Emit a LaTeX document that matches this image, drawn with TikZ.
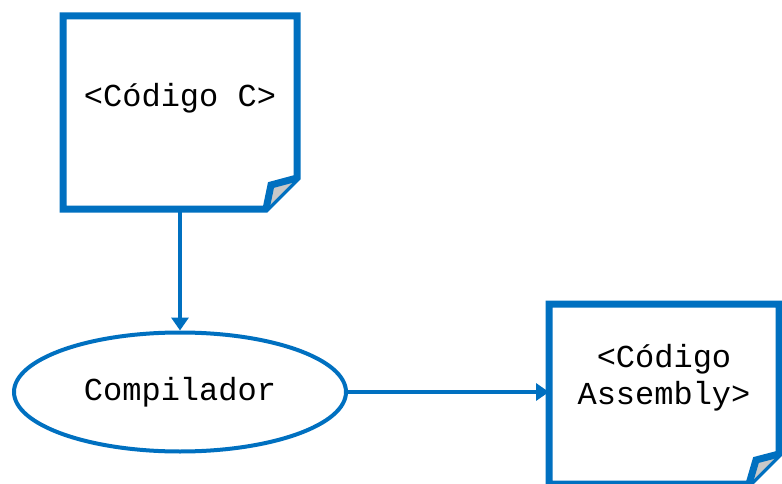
\documentclass[tikz,border=0pt]{standalone}
\usepackage{fontspec}
\setmonofont{Liberation Mono}
\usetikzlibrary{arrows.meta,shapes.geometric,calc}
\definecolor{docblue}{HTML}{0070C0}
\definecolor{foldgray}{HTML}{C8C8C8}
\begin{document}
\begin{tikzpicture}[x=1pt,y=-1pt,
  docshape/.style={rectangle, draw=none, inner sep=0pt, outer sep=0pt},
  docline/.style={draw=docblue, line width=7pt, line join=miter, fill=white},
  foldline/.style={draw=docblue, line width=7pt, line join=miter, fill=foldgray},
  label/.style={font=\ttfamily\fontsize{32}{37}\selectfont, align=center, inner sep=0pt},
  procshape/.style={ellipse, draw=docblue, line width=4pt, minimum width=332pt, minimum height=119pt, inner sep=0pt, fill=white},
  flow/.style={draw=docblue, line width=4pt, -{Triangle[width=17pt,length=13pt]}}]
\useasboundingbox (0,0) rectangle (782,484);
\clip (0,0) rectangle (782,484);
% document 1
\node[docshape, minimum width=234pt, minimum height=193pt] (doc1) at (180,112.5) {};
\draw[docline] (doc1.north west) -- (doc1.north east) -- ($(doc1.south east)+(0,-31)$) -- ($(doc1.south east)+(-31,0)$) -- (doc1.south west) -- cycle;
\draw[foldline] ($(doc1.south east)+(0,-31)$) -- ($(doc1.south east)+(-26,-24)$) -- ($(doc1.south east)+(-31,0)$);
\node[label] (t1) at (180,98) {<Código C>};
% compiler
\node[procshape] (comp) at (180,392) {};
\node[label] (t2) at (180,392) {Compilador};
% document 2
\node[docshape, minimum width=230pt, minimum height=180pt] (doc2) at (664,394) {};
\draw[docline] (doc2.north west) -- (doc2.north east) -- ($(doc2.south east)+(0,-30)$) -- ($(doc2.south east)+(-30,0)$) -- (doc2.south west) -- cycle;
\draw[foldline] ($(doc2.south east)+(0,-30)$) -- ($(doc2.south east)+(-23,-24)$) -- ($(doc2.south east)+(-30,0)$);
\node[label] (t3) at (664,378) {<Código\\Assembly>};
% connectors
\draw[flow] (doc1.south) -- (comp.north);
\draw[flow] (comp.east) -- (comp.east -| doc2.west);
\end{tikzpicture}
\end{document}
